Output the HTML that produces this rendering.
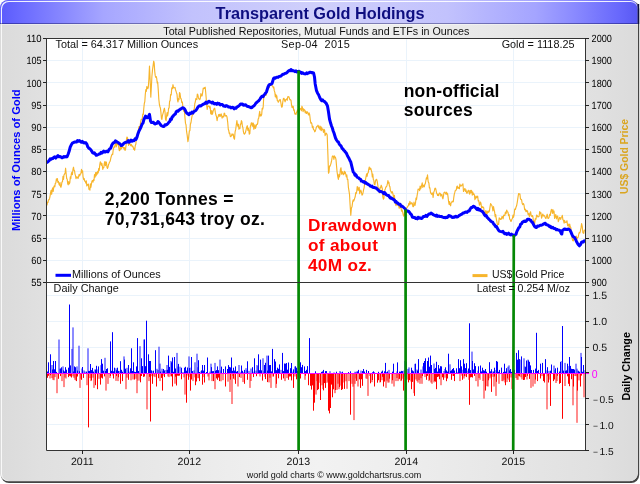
<!DOCTYPE html>
<html><head><meta charset="utf-8"><title>Transparent Gold Holdings</title>
<style>
html,body{margin:0;padding:0;background:#fff;width:640px;height:484px;overflow:hidden}
svg{display:block}
text{font-family:'Liberation Sans', Arial, Helvetica, sans-serif}
</style></head><body>
<svg width="640" height="484" viewBox="0 0 640 484">
<defs>
<linearGradient id="fg" x1="0" x2="1" y1="0" y2="0">
<stop offset="0" stop-color="#dbdbdb"/><stop offset="0.06" stop-color="#e0e0e0"/><stop offset="0.38" stop-color="#eeeeee"/><stop offset="0.5" stop-color="#f2f2f2"/><stop offset="0.62" stop-color="#eeeeee"/><stop offset="0.94" stop-color="#e0e0e0"/><stop offset="1" stop-color="#dbdbdb"/>
</linearGradient>
<linearGradient id="hg" x1="0" x2="1" y1="0" y2="0">
<stop offset="0" stop-color="#5c5cfc"/><stop offset="0.03" stop-color="#6a6aff"/><stop offset="0.1" stop-color="#8a8aff"/><stop offset="0.16" stop-color="#a6a6ff"/><stop offset="0.3" stop-color="#c2c2fd"/><stop offset="0.5" stop-color="#d0d0fb"/><stop offset="0.7" stop-color="#c2c2fd"/><stop offset="0.84" stop-color="#a4a4ff"/><stop offset="0.9" stop-color="#8a8aff"/><stop offset="0.97" stop-color="#6868fc"/><stop offset="1" stop-color="#5858f4"/>
</linearGradient>
<clipPath id="hc"><rect x="0" y="0" width="640" height="24"/></clipPath>
<clipPath id="plc"><rect x="46" y="38" width="539" height="412"/></clipPath>
</defs>

<rect x="1" y="1" width="638.2" height="482" rx="8" ry="8" fill="#444"/>
<rect x="0" y="0" width="637.8" height="481.2" rx="8" ry="8" fill="#d6d6d6"/>
<rect x="0.9" y="0.9" width="636.7" height="480" rx="7.5" ry="7.5" fill="#f8f8f8"/>
<rect x="2" y="2" width="635.6" height="478.9" rx="7" ry="7" fill="url(#fg)"/>
<g clip-path="url(#hc)"><rect x="0" y="0" width="637.8" height="481.2" rx="8" ry="8" fill="url(#hg)"/><rect x="0.9" y="0.9" width="636.7" height="480" rx="7.5" ry="7.5" fill="#fff" fill-opacity="0.9"/><rect x="2" y="2" width="635.6" height="478.9" rx="7" ry="7" fill="url(#hg)"/><rect x="637.6" y="4" width="1.6" height="20" fill="#101040"/></g>
<rect x="0" y="23" width="637.6" height="1" fill="#000040" fill-opacity="0.38"/>
<rect x="2" y="24" width="635.6" height="1" fill="#fff" fill-opacity="0.4"/>
<text x="320.1" y="18.6" text-anchor="middle" font-size="16.3" font-weight="bold" fill="#0e0e80">Transparent Gold Holdings</text>
<text x="316.3" y="34.5" text-anchor="middle" font-size="10.7" fill="#111">Total Published Repositories, Mutual Funds and ETFs in Ounces</text>
<rect x="46" y="38" width="539" height="412" fill="#fff"/>
<path d="M46 260.5H585 M46 238.5H585 M46 215.5H585 M46 193.5H585 M46 171.5H585 M46 149.5H585 M46 127.5H585 M46 105.5H585 M46 82.5H585 M46 60.5H585 M46 295.5H585 M46 321.5H585 M46 347.5H585 M46 398.5H585 M46 424.5H585 M82.5 38V450 M189.5 38V450 M298.5 38V450 M406.5 38V450 M513.5 38V450" stroke="#eaf3fb" stroke-width="1" fill="none"/>
<path d="M47.5 373.0V371.5 M48.5 373.0V362.3 M50.5 373.0V354.3 M52.5 373.0V369.5 M53.5 373.0V361.0 M54.5 373.0V369.3 M55.5 373.0V361.0 M56.5 373.0V371.9 M60.5 373.0V368.5 M61.5 373.0V367.3 M63.5 373.0V370.3 M64.5 373.0V371.4 M65.5 373.0V367.2 M66.5 373.0V369.7 M68.5 373.0V367.7 M69.5 373.0V304.5 M70.5 373.0V365.4 M73.5 373.0V371.5 M74.5 373.0V366.4 M75.5 373.0V367.2 M77.5 373.0V370.6 M79.5 373.0V371.2 M82.5 373.0V367.0 M86.5 373.0V371.6 M88.5 373.0V370.9 M89.5 373.0V370.9 M90.5 373.0V364.0 M91.5 373.0V370.1 M92.5 373.0V367.9 M93.5 373.0V371.6 M95.5 373.0V369.7 M96.5 373.0V365.8 M98.5 373.0V366.4 M101.5 373.0V359.1 M102.5 373.0V363.7 M103.5 373.0V370.7 M105.5 373.0V371.0 M106.5 373.0V369.0 M107.5 373.0V368.3 M110.5 373.0V341.4 M111.5 373.0V370.8 M112.5 373.0V332.2 M113.5 373.0V371.3 M114.5 373.0V367.7 M116.5 373.0V370.3 M117.5 373.0V367.7 M118.5 373.0V370.9 M120.5 373.0V361.2 M121.5 373.0V369.8 M122.5 373.0V371.7 M124.5 373.0V359.6 M125.5 373.0V368.7 M128.5 373.0V365.0 M130.5 373.0V368.3 M131.5 373.0V348.3 M132.5 373.0V371.0 M133.5 373.0V362.3 M134.5 373.0V371.7 M135.5 373.0V372.0 M136.5 373.0V366.4 M137.5 373.0V338.1 M138.5 373.0V371.0 M141.5 373.0V358.3 M142.5 373.0V366.1 M144.5 373.0V339.5 M145.5 373.0V366.2 M146.5 373.0V320.7 M148.5 373.0V354.3 M149.5 373.0V361.0 M150.5 373.0V361.0 M151.5 373.0V370.4 M153.5 373.0V370.7 M155.5 373.0V350.2 M160.5 373.0V371.6 M163.5 373.0V369.0 M164.5 373.0V370.4 M167.5 373.0V369.8 M168.5 373.0V355.6 M169.5 373.0V366.9 M171.5 373.0V362.3 M172.5 373.0V357.5 M173.5 373.0V371.8 M174.5 373.0V357.0 M175.5 373.0V368.5 M178.5 373.0V363.9 M181.5 373.0V367.7 M184.5 373.0V367.7 M185.5 373.0V366.8 M186.5 373.0V370.7 M187.5 373.0V367.5 M189.5 373.0V368.0 M191.5 373.0V357.0 M192.5 373.0V371.1 M198.5 373.0V360.2 M199.5 373.0V372.0 M201.5 373.0V370.4 M202.5 373.0V365.0 M203.5 373.0V370.6 M204.5 373.0V365.0 M206.5 373.0V372.0 M207.5 373.0V357.5 M211.5 373.0V367.1 M212.5 373.0V371.2 M213.5 373.0V371.1 M215.5 373.0V370.8 M216.5 373.0V370.1 M217.5 373.0V366.4 M218.5 373.0V370.2 M221.5 373.0V366.6 M223.5 373.0V369.0 M225.5 373.0V366.4 M227.5 373.0V369.0 M228.5 373.0V365.1 M229.5 373.0V366.9 M230.5 373.0V367.4 M231.5 373.0V357.5 M232.5 373.0V370.8 M233.5 373.0V367.7 M234.5 373.0V370.6 M235.5 373.0V366.4 M236.5 373.0V371.7 M237.5 373.0V371.0 M241.5 373.0V365.5 M242.5 373.0V370.8 M244.5 373.0V369.9 M247.5 373.0V361.3 M252.5 373.0V367.2 M254.5 373.0V358.3 M258.5 373.0V354.3 M259.5 373.0V370.2 M260.5 373.0V359.6 M261.5 373.0V370.3 M264.5 373.0V365.0 M265.5 373.0V362.8 M267.5 373.0V370.6 M268.5 373.0V355.6 M269.5 373.0V365.1 M270.5 373.0V365.0 M271.5 373.0V371.4 M272.5 373.0V348.9 M274.5 373.0V359.1 M275.5 373.0V361.5 M276.5 373.0V370.2 M277.5 373.0V367.7 M278.5 373.0V368.8 M279.5 373.0V364.4 M282.5 373.0V352.9 M283.5 373.0V371.1 M284.5 373.0V363.5 M285.5 373.0V363.7 M286.5 373.0V363.0 M287.5 373.0V369.7 M288.5 373.0V362.5 M290.5 373.0V368.2 M291.5 373.0V363.0 M293.5 373.0V369.4 M295.5 373.0V366.3 M296.5 373.0V367.7 M297.5 373.0V370.9 M300.5 373.0V362.3 M301.5 373.0V367.2 M302.5 373.0V364.9 M304.5 373.0V366.4 M305.5 373.0V371.1 M306.5 373.0V369.8 M307.5 373.0V366.1 M309.5 373.0V338.1 M315.5 373.0V371.3 M321.5 373.0V371.9 M322.5 373.0V371.4 M323.5 373.0V369.9 M325.5 373.0V371.1 M326.5 373.0V371.1 M336.5 373.0V371.7 M342.5 373.0V371.7 M348.5 373.0V372.1 M350.5 373.0V371.3 M357.5 373.0V371.5 M358.5 373.0V369.9 M362.5 373.0V371.1 M363.5 373.0V369.0 M364.5 373.0V371.5 M366.5 373.0V369.9 M368.5 373.0V371.0 M372.5 373.0V372.3 M373.5 373.0V371.3 M374.5 373.0V372.4 M378.5 373.0V371.8 M381.5 373.0V371.7 M382.5 373.0V370.6 M384.5 373.0V371.3 M385.5 373.0V362.9 M386.5 373.0V372.3 M387.5 373.0V371.4 M392.5 373.0V371.7 M393.5 373.0V363.7 M397.5 373.0V362.4 M399.5 373.0V371.6 M400.5 373.0V371.7 M401.5 373.0V370.9 M402.5 373.0V371.1 M405.5 373.0V371.8 M406.5 373.0V361.8 M411.5 373.0V367.7 M412.5 373.0V370.4 M413.5 373.0V371.3 M415.5 373.0V363.7 M417.5 373.0V370.6 M418.5 373.0V359.1 M423.5 373.0V362.9 M424.5 373.0V361.0 M425.5 373.0V358.3 M426.5 373.0V371.3 M427.5 373.0V361.0 M428.5 373.0V357.5 M429.5 373.0V366.7 M430.5 373.0V355.6 M431.5 373.0V365.0 M434.5 373.0V369.0 M435.5 373.0V367.9 M436.5 373.0V361.8 M437.5 373.0V371.6 M438.5 373.0V365.0 M439.5 373.0V368.5 M440.5 373.0V366.2 M441.5 373.0V366.4 M445.5 373.0V367.3 M446.5 373.0V370.4 M447.5 373.0V371.6 M448.5 373.0V353.7 M450.5 373.0V371.0 M451.5 373.0V370.3 M452.5 373.0V369.0 M453.5 373.0V368.0 M454.5 373.0V370.5 M456.5 373.0V368.3 M458.5 373.0V359.1 M459.5 373.0V368.2 M460.5 373.0V360.2 M461.5 373.0V366.3 M463.5 373.0V359.1 M464.5 373.0V363.7 M465.5 373.0V368.1 M466.5 373.0V363.2 M468.5 373.0V368.5 M469.5 373.0V323.3 M470.5 373.0V370.1 M472.5 373.0V361.0 M473.5 373.0V369.5 M474.5 373.0V363.2 M475.5 373.0V366.1 M478.5 373.0V366.3 M480.5 373.0V365.5 M481.5 373.0V371.4 M482.5 373.0V367.7 M483.5 373.0V370.2 M484.5 373.0V370.7 M485.5 373.0V369.0 M486.5 373.0V371.7 M489.5 373.0V362.2 M490.5 373.0V371.3 M491.5 373.0V369.2 M493.5 373.0V371.7 M494.5 373.0V367.7 M496.5 373.0V361.0 M497.5 373.0V361.7 M498.5 373.0V371.8 M499.5 373.0V369.9 M501.5 373.0V367.6 M503.5 373.0V371.9 M504.5 373.0V363.7 M505.5 373.0V371.6 M506.5 373.0V368.2 M509.5 373.0V370.4 M510.5 373.0V369.0 M511.5 373.0V371.9 M512.5 373.0V370.6 M513.5 373.0V361.0 M514.5 373.0V369.8 M516.5 373.0V352.9 M517.5 373.0V359.7 M518.5 373.0V350.2 M519.5 373.0V359.1 M521.5 373.0V356.4 M525.5 373.0V367.1 M526.5 373.0V360.5 M528.5 373.0V360.4 M529.5 373.0V361.8 M530.5 373.0V365.4 M531.5 373.0V370.0 M533.5 373.0V369.9 M535.5 373.0V368.6 M536.5 373.0V332.8 M537.5 373.0V371.0 M538.5 373.0V369.9 M540.5 373.0V363.7 M542.5 373.0V362.9 M545.5 373.0V359.1 M547.5 373.0V367.2 M550.5 373.0V370.7 M551.5 373.0V364.5 M555.5 373.0V368.3 M557.5 373.0V367.7 M559.5 373.0V371.5 M560.5 373.0V361.8 M562.5 373.0V326.0 M563.5 373.0V370.6 M565.5 373.0V370.8 M566.5 373.0V370.3 M567.5 373.0V363.7 M569.5 373.0V357.0 M570.5 373.0V365.9 M571.5 373.0V368.8 M572.5 373.0V369.0 M573.5 373.0V369.0 M574.5 373.0V369.6 M578.5 373.0V371.1 M579.5 373.0V371.7 M581.5 373.0V357.0 M582.5 373.0V371.8 M583.5 373.0V365.0" stroke="#0000ff" stroke-width="1" fill="none"/>
<path d="M52.0 373.0V365.0 M59.0 373.0V339.5 M60.0 373.0V368.7 M63.0 373.0V366.4 M72.0 373.0V348.9 M73.0 373.0V327.4 M77.0 373.0V366.4 M79.0 373.0V345.7 M82.0 373.0V368.5 M84.0 373.0V370.4 M85.0 373.0V371.5 M88.0 373.0V348.3 M95.0 373.0V369.4 M98.0 373.0V369.4 M101.0 373.0V365.1 M105.0 373.0V357.8 M116.0 373.0V368.3 M120.0 373.0V371.0 M124.0 373.0V356.4 M127.0 373.0V367.8 M130.0 373.0V371.6 M140.0 373.0V346.2 M144.0 373.0V339.5 M153.0 373.0V370.9 M157.0 373.0V368.8 M158.0 373.0V370.1 M159.0 373.0V346.7 M160.0 373.0V363.6 M162.0 373.0V368.7 M163.0 373.0V371.2 M166.0 373.0V370.0 M167.0 373.0V365.0 M171.0 373.0V361.0 M177.0 373.0V352.9 M178.0 373.0V366.5 M180.0 373.0V366.7 M183.0 373.0V372.0 M189.0 373.0V356.4 M191.0 373.0V367.6 M194.0 373.0V370.4 M195.0 373.0V362.3 M197.0 373.0V353.7 M198.0 373.0V367.2 M201.0 373.0V371.3 M210.0 373.0V371.6 M211.0 373.0V363.7 M215.0 373.0V362.9 M220.0 373.0V359.6 M221.0 373.0V370.5 M239.0 373.0V365.0 M241.0 373.0V371.8 M244.0 373.0V372.0 M246.0 373.0V368.2 M247.0 373.0V370.2 M249.0 373.0V370.9 M251.0 373.0V368.5 M254.0 373.0V371.6 M256.0 373.0V370.6 M257.0 373.0V365.0 M258.0 373.0V366.0 M263.0 373.0V358.3 M264.0 373.0V371.3 M267.0 373.0V355.6 M281.0 373.0V369.9 M293.0 373.0V371.6 M295.0 373.0V366.5 M299.0 373.0V363.5 M300.0 373.0V371.5 M330.0 373.0V371.2 M334.0 373.0V372.4 M340.0 373.0V371.0 M341.0 373.0V372.0 M355.0 373.0V371.7 M356.0 373.0V372.2 M357.0 373.0V371.3 M361.0 373.0V370.6 M389.0 373.0V369.9 M397.0 373.0V371.4 M404.0 373.0V370.6 M405.0 373.0V361.0 M408.0 373.0V368.9 M409.0 373.0V367.4 M415.0 373.0V363.9 M417.0 373.0V369.5 M421.0 373.0V369.6 M423.0 373.0V366.4 M434.0 373.0V363.5 M444.0 373.0V371.0 M445.0 373.0V369.0 M450.0 373.0V364.3 M458.0 373.0V371.9 M463.0 373.0V369.7 M468.0 373.0V370.7 M472.0 373.0V351.6 M478.0 373.0V370.7 M493.0 373.0V371.4 M496.0 373.0V370.1 M508.0 373.0V366.7 M509.0 373.0V365.4 M521.0 373.0V359.6 M524.0 373.0V358.3 M525.0 373.0V366.4 M528.0 373.0V359.6 M547.0 373.0V370.3 M549.0 373.0V370.9 M554.0 373.0V365.6 M555.0 373.0V369.9 M562.0 373.0V361.0 M565.0 373.0V362.9 M569.0 373.0V366.1 M576.0 373.0V363.7 M577.0 373.0V368.7 M578.0 373.0V370.5 M581.0 373.0V352.9 M585.0 373.0V370.2" stroke="#0000ff" stroke-width="1" fill="none" stroke-opacity="0.9"/>
<path d="M47.5 374.0V377.8 M48.5 374.0V375.8 M50.5 374.0V375.2 M58.5 374.0V378.8 M60.5 374.0V376.1 M68.5 374.0V377.1 M69.5 374.0V375.8 M70.5 374.0V376.4 M71.5 374.0V377.5 M76.5 374.0V381.1 M77.5 374.0V376.5 M81.5 374.0V379.8 M83.5 374.0V377.9 M88.5 374.0V427.4 M91.5 374.0V380.3 M95.5 374.0V385.2 M97.5 374.0V389.2 M100.5 374.0V384.6 M101.5 374.0V377.7 M102.5 374.0V378.5 M104.5 374.0V376.4 M110.5 374.0V376.0 M113.5 374.0V378.5 M116.5 374.0V375.9 M118.5 374.0V377.3 M120.5 374.0V383.8 M122.5 374.0V381.1 M128.5 374.0V379.8 M134.5 374.0V379.6 M140.5 374.0V382.3 M141.5 374.0V376.0 M143.5 374.0V376.9 M144.5 374.0V376.5 M149.5 374.0V376.8 M150.5 374.0V421.5 M152.5 374.0V383.8 M156.5 374.0V386.5 M158.5 374.0V378.2 M161.5 374.0V377.9 M162.5 374.0V390.6 M164.5 374.0V377.1 M171.5 374.0V376.3 M172.5 374.0V386.5 M175.5 374.0V376.7 M176.5 374.0V385.5 M177.5 374.0V375.7 M178.5 374.0V375.8 M179.5 374.0V375.6 M181.5 374.0V379.3 M186.5 374.0V402.7 M188.5 374.0V379.8 M190.5 374.0V390.6 M191.5 374.0V379.5 M195.5 374.0V385.2 M196.5 374.0V381.5 M199.5 374.0V381.1 M202.5 374.0V384.7 M204.5 374.0V382.5 M213.5 374.0V381.1 M216.5 374.0V378.4 M217.5 374.0V379.8 M218.5 374.0V377.6 M219.5 374.0V381.1 M225.5 374.0V386.5 M230.5 374.0V379.6 M233.5 374.0V378.7 M235.5 374.0V383.8 M239.5 374.0V377.1 M244.5 374.0V383.8 M247.5 374.0V379.8 M253.5 374.0V377.1 M256.5 374.0V376.2 M262.5 374.0V380.6 M265.5 374.0V379.1 M267.5 374.0V382.1 M273.5 374.0V376.4 M276.5 374.0V383.8 M278.5 374.0V378.3 M281.5 374.0V379.8 M283.5 374.0V378.4 M288.5 374.0V379.8 M289.5 374.0V376.5 M290.5 374.0V376.4 M291.5 374.0V380.4 M293.5 374.0V387.9 M296.5 374.0V379.3 M300.5 374.0V378.5 M305.5 374.0V375.7 M308.5 374.0V385.2 M310.5 374.0V385.8 M311.5 374.0V389.6 M312.5 374.0V385.4 M313.5 374.0V410.7 M314.5 374.0V402.7 M317.5 374.0V390.1 M318.5 374.0V389.2 M320.5 374.0V400.0 M323.5 374.0V390.4 M324.5 374.0V383.1 M325.5 374.0V387.9 M328.5 374.0V410.7 M329.5 374.0V413.4 M330.5 374.0V408.0 M331.5 374.0V384.6 M332.5 374.0V397.3 M333.5 374.0V389.3 M335.5 374.0V390.0 M339.5 374.0V387.1 M341.5 374.0V390.0 M342.5 374.0V389.2 M344.5 374.0V388.9 M350.5 374.0V414.7 M356.5 374.0V380.9 M359.5 374.0V379.3 M360.5 374.0V387.9 M361.5 374.0V379.3 M362.5 374.0V385.8 M370.5 374.0V383.3 M372.5 374.0V380.0 M374.5 374.0V386.5 M377.5 374.0V382.7 M378.5 374.0V380.2 M380.5 374.0V382.0 M382.5 374.0V376.8 M383.5 374.0V386.5 M384.5 374.0V381.6 M389.5 374.0V378.7 M392.5 374.0V380.2 M399.5 374.0V378.8 M401.5 374.0V380.3 M403.5 374.0V390.6 M405.5 374.0V381.1 M406.5 374.0V378.4 M408.5 374.0V382.4 M409.5 374.0V380.1 M411.5 374.0V389.2 M412.5 374.0V381.9 M414.5 374.0V395.9 M422.5 374.0V376.0 M426.5 374.0V379.8 M427.5 374.0V375.9 M429.5 374.0V379.9 M434.5 374.0V381.1 M435.5 374.0V381.7 M436.5 374.0V389.2 M437.5 374.0V377.0 M438.5 374.0V376.5 M439.5 374.0V379.2 M442.5 374.0V377.3 M443.5 374.0V379.8 M446.5 374.0V381.2 M447.5 374.0V378.5 M451.5 374.0V379.8 M453.5 374.0V376.0 M454.5 374.0V381.1 M462.5 374.0V379.8 M464.5 374.0V376.2 M466.5 374.0V377.1 M469.5 374.0V404.8 M470.5 374.0V377.4 M471.5 374.0V377.1 M472.5 374.0V377.5 M474.5 374.0V375.9 M485.5 374.0V390.6 M488.5 374.0V380.3 M491.5 374.0V391.9 M494.5 374.0V376.6 M496.5 374.0V381.8 M505.5 374.0V385.2 M507.5 374.0V378.4 M509.5 374.0V381.9 M512.5 374.0V378.3 M513.5 374.0V378.8 M518.5 374.0V375.7 M519.5 374.0V376.3 M523.5 374.0V380.0 M524.5 374.0V379.8 M525.5 374.0V377.0 M527.5 374.0V375.9 M529.5 374.0V378.9 M535.5 374.0V379.6 M537.5 374.0V381.1 M540.5 374.0V378.5 M543.5 374.0V381.1 M544.5 374.0V382.5 M548.5 374.0V382.5 M550.5 374.0V405.9 M553.5 374.0V381.1 M554.5 374.0V379.5 M557.5 374.0V375.8 M559.5 374.0V383.8 M560.5 374.0V383.0 M562.5 374.0V418.8 M567.5 374.0V376.3 M568.5 374.0V383.8 M569.5 374.0V386.2 M571.5 374.0V379.2 M573.5 374.0V386.5 M577.5 374.0V390.6 M580.5 374.0V386.5 M581.5 374.0V375.6" stroke="#ff0000" stroke-width="1" fill="none"/>
<path d="M50.0 374.0V378.5 M52.0 374.0V378.1 M53.0 374.0V379.8 M54.0 374.0V380.2 M55.0 374.0V377.1 M57.0 374.0V393.2 M62.0 374.0V381.1 M64.0 374.0V387.1 M65.0 374.0V377.5 M66.0 374.0V378.5 M73.0 374.0V376.3 M74.0 374.0V377.8 M75.0 374.0V379.8 M76.0 374.0V380.5 M80.0 374.0V387.9 M81.0 374.0V378.7 M87.0 374.0V385.2 M90.0 374.0V378.1 M91.0 374.0V381.1 M93.0 374.0V377.7 M94.0 374.0V387.9 M99.0 374.0V378.8 M106.0 374.0V390.6 M108.0 374.0V383.9 M110.0 374.0V377.9 M113.0 374.0V375.5 M116.0 374.0V380.9 M118.0 374.0V381.1 M126.0 374.0V389.2 M127.0 374.0V377.7 M131.0 374.0V380.3 M133.0 374.0V379.5 M136.0 374.0V378.8 M137.0 374.0V393.2 M138.0 374.0V380.6 M140.0 374.0V380.6 M147.0 374.0V409.4 M149.0 374.0V381.1 M152.0 374.0V376.2 M154.0 374.0V376.4 M155.0 374.0V377.1 M160.0 374.0V381.1 M164.0 374.0V375.7 M168.0 374.0V376.4 M169.0 374.0V377.1 M171.0 374.0V376.3 M175.0 374.0V383.7 M184.0 374.0V377.4 M185.0 374.0V394.6 M188.0 374.0V375.6 M190.0 374.0V377.1 M193.0 374.0V381.1 M195.0 374.0V377.4 M198.0 374.0V378.2 M199.0 374.0V378.2 M204.0 374.0V377.1 M208.0 374.0V376.5 M209.0 374.0V380.4 M212.0 374.0V381.1 M215.0 374.0V389.2 M221.0 374.0V381.3 M223.0 374.0V380.2 M228.0 374.0V381.7 M230.0 374.0V391.9 M232.0 374.0V404.0 M233.0 374.0V376.0 M235.0 374.0V379.8 M238.0 374.0V386.5 M241.0 374.0V377.9 M243.0 374.0V382.1 M250.0 374.0V387.9 M251.0 374.0V381.0 M260.0 374.0V376.5 M265.0 374.0V376.8 M269.0 374.0V382.4 M270.0 374.0V377.8 M271.0 374.0V387.9 M273.0 374.0V376.6 M276.0 374.0V387.9 M285.0 374.0V381.1 M287.0 374.0V378.1 M295.0 374.0V376.5 M298.0 374.0V378.5 M299.0 374.0V380.8 M305.0 374.0V379.8 M316.0 374.0V394.6 M317.0 374.0V381.1 M320.0 374.0V382.8 M322.0 374.0V385.3 M323.0 374.0V389.1 M327.0 374.0V382.9 M328.0 374.0V381.8 M335.0 374.0V393.2 M337.0 374.0V389.9 M338.0 374.0V383.7 M339.0 374.0V389.2 M341.0 374.0V385.6 M344.0 374.0V382.5 M346.0 374.0V381.3 M347.0 374.0V388.8 M349.0 374.0V381.1 M352.0 374.0V383.8 M353.0 374.0V386.7 M354.0 374.0V420.1 M355.0 374.0V383.8 M356.0 374.0V378.5 M358.0 374.0V386.5 M366.0 374.0V378.5 M367.0 374.0V378.9 M368.0 374.0V395.9 M370.0 374.0V376.0 M372.0 374.0V382.2 M380.0 374.0V382.5 M382.0 374.0V380.2 M386.0 374.0V387.9 M387.0 374.0V380.7 M388.0 374.0V382.6 M389.0 374.0V382.5 M392.0 374.0V383.7 M394.0 374.0V386.5 M396.0 374.0V381.1 M397.0 374.0V378.0 M398.0 374.0V381.1 M399.0 374.0V379.3 M401.0 374.0V381.1 M403.0 374.0V378.7 M405.0 374.0V376.5 M408.0 374.0V379.6 M411.0 374.0V381.5 M414.0 374.0V393.2 M416.0 374.0V379.5 M417.0 374.0V381.1 M418.0 374.0V382.6 M419.0 374.0V380.0 M420.0 374.0V383.8 M421.0 374.0V378.2 M422.0 374.0V383.8 M425.0 374.0V377.1 M429.0 374.0V381.1 M431.0 374.0V382.5 M432.0 374.0V383.8 M434.0 374.0V382.4 M441.0 374.0V385.2 M445.0 374.0V377.7 M453.0 374.0V375.9 M460.0 374.0V381.1 M462.0 374.0V375.7 M464.0 374.0V378.5 M466.0 374.0V376.3 M469.0 374.0V379.9 M476.0 374.0V381.1 M478.0 374.0V386.5 M479.0 374.0V378.0 M480.0 374.0V379.8 M483.0 374.0V381.0 M484.0 374.0V398.6 M487.0 374.0V386.2 M488.0 374.0V386.5 M490.0 374.0V378.4 M491.0 374.0V376.6 M493.0 374.0V376.8 M494.0 374.0V386.5 M496.0 374.0V395.9 M499.0 374.0V383.8 M502.0 374.0V381.1 M503.0 374.0V381.2 M504.0 374.0V379.8 M505.0 374.0V382.5 M507.0 374.0V382.1 M509.0 374.0V379.8 M511.0 374.0V377.5 M512.0 374.0V389.2 M516.0 374.0V378.0 M517.0 374.0V379.8 M518.0 374.0V379.8 M521.0 374.0V377.3 M522.0 374.0V379.4 M527.0 374.0V379.5 M531.0 374.0V387.9 M533.0 374.0V386.5 M535.0 374.0V383.8 M542.0 374.0V376.1 M547.0 374.0V409.4 M548.0 374.0V376.2 M550.0 374.0V379.7 M556.0 374.0V383.0 M557.0 374.0V381.1 M565.0 374.0V386.0 M573.0 374.0V405.3 M575.0 374.0V376.0 M576.0 374.0V376.1 M577.0 374.0V422.8 M579.0 374.0V380.4 M584.0 374.0V397.3" stroke="#ff0000" stroke-width="1" fill="none" stroke-opacity="0.9"/>
<path d="M46 373.5H589" stroke="#ff00ff" stroke-width="1"/>
<g clip-path="url(#plc)"><polyline points="47.0,205.4 47.5,202.2 48.0,202.5 48.5,199.9 49.1,199.8 49.6,198.4 50.1,196.0 50.6,192.6 51.1,190.3 51.7,194.3 52.2,189.4 52.7,187.9 53.2,191.5 53.8,186.9 54.3,185.8 54.8,186.8 55.3,183.2 55.8,183.1 56.4,178.8 56.9,180.7 57.4,178.6 57.9,182.3 58.4,181.5 59.0,184.2 59.5,185.2 60.0,182.6 60.5,186.8 61.0,187.2 61.5,184.8 62.0,181.7 62.5,181.7 63.0,176.4 63.5,179.5 64.0,174.8 64.6,174.1 65.1,172.9 65.6,168.2 66.1,173.4 66.7,178.6 67.2,179.2 67.7,183.7 68.2,184.8 68.7,181.6 69.2,183.9 69.8,182.7 70.3,176.9 70.8,178.6 71.3,174.0 71.9,172.2 72.4,174.7 73.0,169.1 73.5,167.2 74.0,170.3 74.5,170.5 75.0,174.1 75.5,175.6 76.0,178.6 76.5,176.9 77.0,177.7 77.5,177.0 78.1,178.4 78.6,176.3 79.1,174.4 79.7,175.9 80.3,174.1 80.9,173.7 81.5,169.3 82.0,172.3 82.6,170.9 83.1,177.2 83.7,179.7 84.2,178.6 84.7,181.2 85.2,181.1 85.8,183.1 86.3,180.9 86.8,185.9 87.3,185.3 87.8,184.4 88.4,184.0 88.9,189.3 89.4,188.9 89.9,190.1 90.4,183.9 90.9,187.3 91.5,183.7 92.0,180.9 92.5,180.6 93.0,182.1 93.5,179.6 94.0,180.4 94.5,174.6 95.1,177.2 95.6,172.5 96.1,175.8 96.7,172.3 97.2,174.2 97.7,171.3 98.2,173.0 98.7,168.6 99.2,170.4 99.8,164.6 100.3,161.8 100.8,163.1 101.3,165.3 101.8,163.2 102.3,165.8 102.8,169.3 103.3,167.5 103.8,167.6 104.3,163.4 104.9,161.5 105.4,165.6 105.9,162.0 106.4,162.1 107.0,167.5 107.5,168.4 108.0,167.2 108.5,164.7 109.0,163.5 109.5,162.2 110.1,161.3 110.6,159.2 111.1,156.9 111.6,155.5 112.1,154.2 112.7,154.5 113.2,150.0 113.7,147.8 114.2,146.5 114.7,147.2 115.2,143.5 115.8,143.2 116.3,146.8 116.8,143.2 117.3,142.4 117.8,144.8 118.3,143.4 118.8,148.1 119.3,150.7 119.8,150.5 120.3,146.2 120.8,149.3 121.4,148.7 121.9,144.4 122.4,146.5 122.9,147.8 123.4,147.3 124.0,149.2 124.5,147.6 125.0,150.4 125.5,149.6 126.0,145.9 126.5,139.2 127.0,137.0 127.6,138.0 128.1,142.8 128.6,145.4 129.2,141.7 129.7,144.1 130.2,144.3 130.7,145.7 131.2,144.4 131.7,145.2 132.2,146.6 132.7,146.1 133.2,147.2 133.7,149.4 134.2,148.3 134.7,150.3 135.3,145.5 135.9,144.0 136.5,135.2 137.1,134.2 137.6,133.2 138.1,132.7 138.6,128.5 139.1,126.5 139.6,126.8 140.1,126.7 140.7,121.6 141.2,119.5 141.7,119.3 142.2,119.2 142.8,114.0 143.3,114.4 143.8,108.3 144.3,103.5 144.8,101.7 145.3,94.2 145.8,89.7 146.3,91.5 146.8,86.6 147.3,87.2 147.8,88.7 148.3,87.2 148.9,79.1 149.5,66.1 150.2,81.3 150.8,97.1 151.4,86.3 151.9,76.5 152.5,69.9 153.1,65.7 153.7,61.2 154.2,63.2 154.7,71.2 155.2,75.4 155.7,77.3 156.2,76.5 156.7,78.3 157.2,82.9 157.7,82.2 158.3,90.5 158.8,99.0 159.4,104.5 159.9,106.5 160.4,108.1 160.9,112.1 161.4,118.3 161.9,119.4 162.4,115.7 162.9,113.9 163.4,112.1 163.9,109.9 164.4,108.2 165.0,111.8 165.5,119.2 166.1,120.6 166.6,115.9 167.1,112.5 167.6,116.0 168.1,113.1 168.6,108.2 169.1,107.9 169.6,101.0 170.1,100.9 170.6,94.6 171.2,94.9 171.8,87.9 172.4,88.7 173.0,84.7 173.5,87.9 174.0,87.7 174.5,87.8 175.0,87.3 175.5,89.7 176.0,91.1 176.5,92.9 177.0,94.3 177.5,100.1 178.0,102.0 178.5,98.5 179.0,99.7 179.5,92.6 180.0,93.4 180.6,98.1 181.2,98.9 181.8,102.6 182.4,102.0 182.9,107.5 183.4,110.5 183.9,111.4 184.4,110.8 184.9,116.9 185.5,123.4 186.0,124.7 186.6,131.7 187.2,135.4 187.9,141.6 188.4,139.2 188.9,134.8 189.4,130.7 189.9,130.6 190.4,124.3 191.0,122.5 191.6,118.3 192.2,115.3 192.8,114.4 193.3,114.2 193.8,109.3 194.3,108.8 194.8,103.5 195.3,102.0 195.8,98.6 196.3,99.3 196.8,99.6 197.3,94.0 197.8,94.6 198.3,97.2 198.8,98.8 199.3,98.8 199.8,99.6 200.3,98.3 200.9,93.6 201.5,96.0 202.1,96.0 202.7,92.1 203.2,88.2 203.7,88.7 204.2,87.7 204.7,88.4 205.2,87.2 205.7,92.3 206.2,98.2 206.7,105.7 207.2,109.5 207.7,106.1 208.2,106.1 208.7,106.3 209.2,106.1 209.7,108.2 210.2,106.7 210.7,113.7 211.2,114.2 211.7,110.5 212.2,114.4 212.7,113.2 213.2,110.7 213.7,109.5 214.2,108.5 214.7,108.2 215.3,112.2 215.9,115.0 216.5,116.6 217.1,120.6 217.6,117.4 218.1,117.0 218.6,114.5 219.1,116.0 219.6,114.4 220.1,116.5 220.6,115.1 221.1,113.9 221.6,115.3 222.1,118.1 222.6,116.3 223.1,116.8 223.6,117.0 224.1,113.4 224.6,113.2 225.2,116.1 225.8,115.8 226.4,115.5 227.0,116.9 227.7,122.3 228.3,129.3 228.8,130.8 229.3,133.6 229.8,133.2 230.3,136.5 230.8,136.7 231.4,135.8 232.0,133.8 232.6,135.1 233.2,134.2 233.8,137.9 234.5,139.2 235.1,131.8 235.7,129.4 236.3,124.8 236.9,120.6 237.4,124.5 237.9,126.4 238.4,124.2 238.9,129.1 239.4,128.0 239.9,128.6 240.4,124.0 240.9,124.1 241.4,120.6 241.9,121.8 242.4,126.3 242.9,127.8 243.4,131.7 243.9,133.6 244.4,134.2 245.0,133.4 245.6,132.0 246.2,129.1 246.8,126.8 247.3,125.7 247.8,130.3 248.3,128.1 248.8,130.4 249.3,134.2 249.8,133.7 250.3,126.8 250.8,124.9 251.3,122.8 251.8,123.1 252.3,126.5 252.8,123.0 253.3,123.0 253.8,129.2 254.3,128.0 254.9,124.7 255.5,128.4 256.1,126.3 256.7,124.3 257.2,124.5 257.7,123.2 258.2,118.9 258.7,118.3 259.2,114.4 259.7,111.4 260.2,116.1 260.7,114.5 261.2,115.8 261.7,114.4 262.2,108.4 262.7,109.1 263.2,106.8 263.7,97.8 264.2,97.1 264.8,94.7 265.4,95.0 266.0,95.4 266.6,92.1 267.2,89.2 267.7,87.6 268.2,86.8 268.8,87.9 269.3,87.6 269.9,84.7 270.5,84.3 271.1,84.5 271.7,84.9 272.3,85.9 272.8,86.2 273.3,87.9 273.8,87.0 274.3,90.9 274.8,92.1 275.3,96.6 275.8,94.4 276.3,98.0 276.8,95.7 277.3,100.6 277.8,100.8 278.3,102.2 278.8,101.4 279.3,100.2 279.8,99.7 280.3,99.6 280.9,103.0 281.6,107.1 282.2,107.0 282.8,101.9 283.4,98.6 284.0,98.3 284.6,100.3 285.1,101.8 285.7,99.6 286.2,99.5 286.7,98.8 287.2,100.3 287.8,96.7 288.3,97.0 288.8,96.6 289.3,98.0 289.9,99.9 290.4,99.5 291.0,100.4 291.5,104.7 292.1,107.7 292.6,106.2 293.2,106.3 293.7,110.3 294.2,109.8 294.8,114.0 295.3,113.7 295.9,114.5 296.4,112.5 297.0,111.6 297.5,109.8 298.1,112.2 298.6,111.0 299.2,111.2 299.8,108.6 300.3,109.2 300.9,108.4 301.4,110.8 301.9,106.2 302.5,107.9 303.1,111.6 303.6,108.9 304.1,110.2 304.7,109.9 305.2,112.8 305.8,111.2 306.4,113.5 306.9,112.1 307.5,111.9 308.0,113.7 308.6,114.9 309.1,112.9 309.7,114.7 310.2,119.3 310.8,123.2 311.3,122.6 311.8,123.5 312.4,127.7 313.0,126.3 313.5,129.7 314.1,129.7 314.7,131.8 315.2,131.4 315.8,129.4 316.4,127.2 316.9,126.3 317.5,126.2 318.0,125.2 318.6,128.0 319.1,126.1 319.7,128.9 320.2,129.8 320.8,126.2 321.3,130.6 321.8,127.7 322.4,129.4 322.9,129.7 323.5,132.5 324.0,129.2 324.6,130.1 325.1,135.6 325.7,134.3 326.2,133.2 326.7,133.8 327.2,134.9 327.9,154.6 328.5,173.2 329.0,172.3 329.5,166.1 330.0,166.2 330.5,164.9 331.0,163.3 331.6,160.7 332.3,156.5 332.9,155.9 333.4,156.7 333.9,159.3 334.4,155.9 334.9,157.1 335.4,157.1 336.0,159.6 336.5,165.6 337.1,172.0 337.8,176.8 338.4,179.4 338.9,174.4 339.4,176.9 339.9,174.6 340.4,169.5 341.0,167.8 341.6,174.2 342.2,171.5 342.8,173.2 343.3,174.7 343.8,174.4 344.3,171.2 344.8,173.4 345.3,172.0 345.8,174.5 346.3,176.9 346.8,174.9 347.3,179.5 347.8,179.4 348.4,187.3 348.9,190.4 349.5,194.3 350.1,205.0 350.8,215.3 351.4,208.3 352.1,206.2 352.7,201.7 353.2,199.8 353.7,201.1 354.2,199.8 354.7,198.1 355.2,196.7 355.7,192.7 356.2,193.7 356.7,191.6 357.2,186.7 357.7,186.8 358.2,190.3 358.7,189.8 359.2,187.4 359.7,193.6 360.2,191.8 360.8,190.1 361.4,192.0 362.0,195.1 362.6,194.3 363.1,192.4 363.6,189.7 364.1,187.8 364.6,184.1 365.1,181.9 365.6,179.0 366.1,176.3 366.6,173.9 367.1,176.3 367.6,173.2 368.2,172.8 368.7,169.3 369.3,167.0 369.8,169.5 370.3,168.1 370.8,168.5 371.3,170.3 371.8,172.0 372.3,176.9 372.8,174.0 373.3,179.5 373.8,180.3 374.3,184.4 374.9,184.9 375.5,181.0 376.1,179.6 376.7,179.4 377.2,181.3 377.7,184.6 378.2,188.6 378.7,188.4 379.2,191.8 379.7,193.0 380.2,187.3 380.7,187.3 381.2,185.2 381.7,186.8 382.3,188.5 382.8,196.9 383.4,199.2 383.9,198.2 384.4,192.2 384.9,189.8 385.4,188.7 385.9,186.8 386.4,186.8 386.9,185.7 387.4,183.7 387.9,180.6 388.4,183.2 388.9,182.3 389.4,185.9 389.9,186.6 390.4,190.5 391.0,191.7 391.6,192.9 392.1,191.6 392.7,192.9 393.3,195.5 393.8,198.8 394.4,195.4 394.9,201.8 395.4,203.8 396.0,205.6 396.5,204.2 397.1,203.7 397.6,204.9 398.1,205.3 398.7,205.9 399.2,208.3 399.8,205.4 400.4,207.7 401.0,206.4 401.5,211.1 402.1,209.9 402.6,211.9 403.2,214.7 403.7,216.1 404.2,215.8 404.8,209.3 405.3,212.4 405.8,208.9 406.3,209.3 406.8,207.6 407.3,207.2 407.8,206.2 408.3,205.8 408.8,203.3 409.3,205.0 409.9,201.3 410.4,203.7 410.9,204.2 411.4,202.7 411.9,202.7 412.4,203.8 412.9,206.7 413.5,206.6 414.0,202.1 414.5,204.8 415.0,205.4 415.5,203.0 416.0,198.0 416.5,199.6 417.0,196.1 417.6,192.7 418.1,189.2 418.6,189.3 419.1,188.8 419.6,190.7 420.1,186.1 420.7,188.9 421.2,187.0 421.7,185.1 422.2,182.8 422.8,187.4 423.3,185.7 423.8,185.1 424.3,186.8 424.8,184.4 425.3,183.6 425.8,181.0 426.4,177.9 426.9,178.8 427.5,174.8 428.2,181.7 428.9,183.1 429.4,188.0 429.9,187.8 430.5,192.5 431.0,193.4 431.5,194.3 432.1,192.9 432.6,193.5 433.1,197.5 433.7,192.5 434.3,190.9 434.9,188.4 435.5,188.2 436.0,190.0 436.6,193.1 437.1,193.9 437.6,195.5 438.1,194.6 438.7,195.6 439.2,193.0 439.8,193.6 440.3,193.4 440.8,196.1 441.4,194.8 441.9,194.4 442.4,197.5 442.9,198.8 443.4,196.4 443.9,192.8 444.4,192.4 444.9,192.0 445.5,193.4 446.0,194.2 446.6,192.2 447.1,194.4 447.6,193.7 448.1,197.4 448.6,201.7 449.1,204.5 449.6,201.5 450.1,204.5 450.6,205.8 451.1,203.0 451.7,202.3 452.2,201.2 452.8,201.9 453.3,201.7 453.8,197.3 454.3,194.1 454.8,192.4 455.3,190.5 455.8,190.3 456.3,189.8 456.8,186.6 457.3,186.0 457.8,188.3 458.3,188.2 458.8,187.2 459.4,188.7 459.9,184.1 460.5,186.0 461.0,186.2 461.7,185.0 462.4,185.1 462.9,183.8 463.5,191.5 464.0,190.3 464.5,188.9 465.0,188.5 465.5,191.4 466.0,189.8 466.5,192.4 467.0,193.4 467.6,191.8 468.1,190.6 468.7,190.3 469.2,193.4 469.7,194.1 470.2,190.4 470.8,192.9 471.3,190.3 471.8,191.1 472.3,195.1 472.8,192.1 473.3,194.4 473.8,193.8 474.4,195.0 474.9,199.6 475.4,198.6 476.0,196.0 476.6,197.8 477.1,196.9 477.7,196.2 478.2,200.9 478.8,200.7 479.4,205.2 479.9,204.3 480.5,202.0 481.0,203.6 481.6,208.1 482.1,206.5 482.7,207.3 483.2,207.1 483.7,207.9 484.2,212.4 484.8,214.4 485.3,212.8 485.9,210.5 486.4,215.1 487.0,211.5 487.5,213.2 488.1,210.9 488.7,212.3 489.4,211.2 490.0,207.2 490.6,203.6 491.2,204.7 491.8,205.3 492.4,207.3 492.9,210.8 493.5,206.6 494.0,209.3 494.6,211.9 495.2,216.7 495.7,214.6 496.3,219.0 496.8,221.2 497.4,224.9 498.0,224.4 498.6,224.4 499.2,217.9 499.8,218.4 500.4,219.5 500.9,218.9 501.4,219.1 502.0,216.5 502.6,216.7 503.1,218.9 503.7,215.1 504.2,215.2 504.8,215.6 505.4,212.0 506.1,213.7 506.7,210.0 507.3,211.7 508.0,212.3 508.6,215.6 509.1,214.6 509.7,219.3 510.2,219.6 510.8,221.4 511.3,221.2 511.9,219.2 512.4,218.5 513.0,215.1 513.5,217.3 514.1,214.7 514.7,209.1 515.4,209.5 516.0,207.2 516.6,205.8 517.3,202.1 517.9,197.9 518.6,193.5 519.3,194.2 519.9,193.9 520.5,199.2 521.0,199.3 521.6,199.8 522.2,203.5 522.8,204.6 523.4,203.5 524.0,205.0 524.7,209.8 525.3,209.1 525.9,211.7 526.4,210.3 527.0,211.6 527.5,210.8 528.1,214.7 528.7,213.6 529.4,216.6 530.0,213.2 530.6,211.8 531.2,215.8 531.8,216.5 532.4,215.5 532.9,216.8 533.5,222.0 534.0,220.8 534.6,224.0 535.3,218.7 536.0,219.1 536.6,215.0 537.2,215.4 537.9,217.0 538.5,216.7 539.1,216.2 539.7,211.5 540.3,213.6 540.9,212.7 541.6,218.2 542.2,216.0 542.8,214.0 543.5,216.0 544.1,215.4 544.7,216.1 545.3,217.9 545.9,218.5 546.6,216.1 547.2,214.2 547.8,218.2 548.4,218.5 549.0,217.7 549.7,214.4 550.3,215.4 550.8,211.7 551.4,209.4 551.9,210.5 552.4,213.4 552.9,209.6 553.4,212.9 554.0,211.1 554.6,218.4 555.2,216.7 555.8,214.5 556.5,218.8 557.1,216.0 557.7,216.1 558.3,221.6 558.9,220.1 559.6,217.4 560.2,217.9 560.7,219.4 561.2,217.4 561.8,216.9 562.3,215.4 562.9,219.6 563.5,220.4 564.1,223.2 564.6,220.3 565.2,222.4 565.8,222.2 566.4,222.3 567.0,220.7 567.6,225.8 568.2,224.1 568.7,225.3 569.2,227.4 569.7,224.1 570.2,226.8 570.7,227.2 571.4,232.2 572.0,237.7 572.7,240.7 573.4,240.8 573.9,237.3 574.5,238.1 575.0,238.3 575.6,238.4 576.3,236.0 576.9,239.0 577.5,237.7 578.2,237.2 578.8,234.0 579.3,232.5 579.9,232.9 580.4,230.9 581.0,227.9 581.6,223.5 582.2,226.3 582.9,232.8 583.7,233.4 584.2,230.6 584.7,229.7" fill="none" stroke="#f7b52c" stroke-width="1.15" stroke-linejoin="round"/>
<polyline points="46.5,163.0 47.4,162.2 48.4,161.3 49.3,160.4 50.2,158.8 51.1,159.2 52.0,158.5 52.8,158.5 53.7,157.4 54.8,156.9 55.8,158.1 56.9,156.8 58.0,155.6 59.0,156.8 60.1,156.4 61.0,157.0 62.0,157.8 62.9,157.4 63.7,156.6 64.6,157.1 65.4,156.5 66.3,156.9 67.1,156.7 68.2,154.0 69.2,151.1 70.2,147.1 71.3,144.8 72.3,143.2 73.4,142.7 74.5,142.0 75.5,142.0 76.5,142.0 77.6,140.5 78.6,141.3 79.5,140.6 80.5,141.5 81.4,142.3 82.4,141.4 83.3,142.4 84.2,143.0 85.0,142.6 85.9,142.8 86.8,144.1 87.8,146.9 88.9,148.3 89.8,148.7 90.8,149.7 91.7,151.1 92.6,152.7 93.5,153.2 94.3,152.8 95.2,153.9 96.2,155.3 97.3,155.0 98.3,154.5 99.4,153.9 100.3,153.7 101.1,152.2 102.0,153.0 102.8,152.0 103.7,151.1 104.5,152.1 105.4,152.1 106.2,151.2 107.1,151.4 107.9,151.8 108.8,150.0 109.8,148.8 110.7,148.3 111.8,145.1 112.8,143.4 113.7,142.5 114.5,142.5 115.4,140.9 116.3,141.3 117.2,142.3 118.2,142.4 119.1,143.4 120.0,143.8 121.0,145.4 121.9,145.5 122.9,144.5 123.8,143.3 124.8,142.7 125.7,142.3 126.6,142.3 127.5,141.5 128.3,140.6 129.2,142.2 130.0,141.2 131.0,140.1 132.0,141.2 133.0,140.5 134.0,140.8 135.0,138.9 136.0,139.4 137.0,137.1 138.0,133.6 139.0,131.0 140.0,129.1 141.0,127.0 142.0,124.2 143.0,123.1 143.8,119.9 144.7,117.8 145.5,116.0 147.0,117.8 148.0,117.5 149.5,114.4 150.5,121.0 151.5,122.6 152.5,122.5 153.4,122.2 154.2,123.5 155.1,124.0 156.0,123.5 157.0,123.3 158.0,121.5 159.0,122.6 160.0,123.9 161.0,125.5 162.0,126.0 163.0,126.5 164.0,126.5 165.0,124.8 166.0,125.0 167.0,124.4 168.0,123.5 169.0,122.0 169.8,121.5 170.6,119.0 171.4,119.5 172.2,116.9 173.0,116.5 173.8,115.1 174.6,114.5 175.4,114.0 176.2,111.8 177.0,111.0 178.0,111.3 179.0,110.1 180.0,109.5 180.9,108.8 181.8,108.4 182.6,107.8 183.5,108.0 184.3,108.6 185.2,110.0 186.0,112.0 187.0,113.3 188.0,114.0 189.0,114.7 190.0,113.1 191.0,113.5 192.0,112.0 193.0,113.0 194.0,111.5 195.0,111.0 196.0,110.3 197.0,108.7 198.0,107.0 199.0,106.0 200.0,105.8 201.0,105.9 202.0,105.0 203.0,104.4 204.0,103.9 205.0,103.5 206.0,102.2 207.0,103.2 208.0,102.0 209.0,101.2 210.0,102.1 211.0,102.2 211.8,103.0 212.7,102.0 213.5,103.3 214.3,103.9 215.2,103.6 216.0,103.6 216.8,104.3 217.7,103.2 218.5,103.9 219.3,103.6 220.2,105.0 221.0,104.5 221.9,104.4 222.7,104.8 223.6,106.0 224.4,105.9 225.3,106.4 226.1,105.6 227.0,105.9 227.8,106.3 228.6,107.1 229.4,107.1 230.2,107.1 231.0,107.9 231.8,107.7 232.6,107.3 233.4,107.7 234.2,108.8 235.0,107.9 236.0,108.2 237.0,107.1 238.0,106.4 238.9,105.8 239.8,105.0 240.6,104.0 241.5,104.2 242.4,103.9 243.2,105.0 244.1,105.3 245.0,104.8 245.9,105.0 246.8,106.1 247.6,106.5 248.5,106.4 249.4,107.0 250.2,107.2 251.1,107.7 252.0,107.5 253.0,106.3 254.0,105.9 255.0,104.5 256.0,103.0 257.0,102.3 258.0,101.3 259.0,100.5 260.0,99.0 261.0,97.4 262.0,96.2 263.0,96.6 264.0,95.0 264.8,94.2 265.7,93.0 266.5,91.8 268.0,87.0 269.0,84.9 270.0,84.5 271.0,84.1 272.0,83.5 273.5,78.6 274.3,77.8 275.2,78.2 276.0,77.6 277.0,77.2 278.0,77.4 279.0,76.5 280.0,76.3 281.0,76.0 282.0,75.0 283.0,74.2 284.0,74.2 285.0,73.4 286.0,73.2 287.0,72.7 288.0,71.4 289.0,70.5 290.0,70.8 291.0,69.5 292.0,70.7 293.0,70.5 294.0,71.0 294.9,71.6 295.9,70.9 296.7,71.9 297.6,71.4 298.4,71.6 299.2,71.2 300.1,72.6 300.9,72.2 301.7,73.3 302.5,72.7 303.4,73.3 304.2,73.7 305.0,73.9 305.8,73.8 306.6,72.9 307.4,73.7 308.2,73.0 309.0,72.8 309.8,72.2 310.7,72.2 311.5,72.7 312.4,72.6 313.6,73.0 314.5,77.0 315.2,84.0 316.5,90.7 317.6,93.2 318.6,94.8 319.7,97.5 320.8,99.7 321.7,100.6 322.6,99.9 323.5,101.3 324.3,101.3 325.2,102.3 326.0,103.0 327.5,106.0 328.5,112.0 329.5,119.0 330.5,122.8 331.5,126.0 332.3,127.8 333.2,131.0 334.0,133.0 335.5,138.0 336.5,140.0 337.5,141.5 338.4,142.1 339.3,144.2 340.3,145.2 341.2,146.3 342.1,148.5 342.9,148.9 343.7,150.2 344.6,151.0 345.4,152.1 346.2,152.8 347.0,154.7 347.9,156.5 348.9,158.2 349.9,160.5 350.8,162.1 352.0,167.2 353.2,172.0 354.1,172.8 355.0,175.2 356.0,174.8 356.9,176.9 357.8,177.5 358.7,177.9 359.6,178.9 360.4,179.1 361.3,181.1 362.2,181.0 363.1,181.9 364.0,181.6 364.9,183.0 365.8,182.5 366.6,183.7 367.5,183.8 368.4,184.6 369.3,184.9 370.2,186.1 371.1,186.4 372.0,186.1 372.8,187.3 373.7,187.4 374.6,187.4 375.5,188.1 376.4,188.1 377.3,189.3 378.2,189.8 379.0,191.0 379.9,191.6 380.8,191.4 381.7,191.8 382.6,192.1 383.5,193.6 384.4,192.5 385.2,193.2 386.1,194.6 387.0,195.2 387.9,195.5 388.7,195.5 389.5,197.0 390.4,198.1 391.2,197.7 392.0,198.5 392.8,199.2 393.6,199.3 394.5,200.1 395.3,201.9 396.1,201.5 397.0,203.1 397.8,202.9 398.6,204.3 399.4,204.3 400.2,204.3 401.1,206.2 401.9,206.0 402.7,206.6 403.7,207.5 404.8,208.5 405.8,209.9 406.7,211.3 407.6,210.9 408.4,211.1 409.3,212.0 410.3,213.7 411.4,214.7 412.4,217.1 413.2,217.5 414.0,217.4 414.9,217.4 415.7,218.5 416.5,218.2 417.3,218.8 418.2,217.3 419.0,218.3 419.9,217.8 420.7,218.2 421.5,218.6 422.3,218.0 423.2,216.7 424.0,216.4 424.8,216.5 425.8,215.4 426.9,216.4 427.9,215.1 428.9,214.0 430.0,213.9 431.0,213.0 432.0,213.7 433.1,214.7 434.1,215.1 434.9,215.5 435.7,215.9 436.6,215.0 437.4,216.4 438.2,216.1 439.0,215.9 439.9,216.6 440.7,216.4 441.6,216.5 442.4,217.1 443.4,217.4 444.5,217.5 445.5,217.8 446.3,217.2 447.1,217.6 448.0,216.9 448.8,215.6 449.6,216.1 450.4,215.9 451.2,216.4 452.1,217.4 452.9,217.6 453.7,217.1 454.7,217.2 455.8,216.2 456.8,217.1 457.8,216.9 458.9,215.6 459.9,215.1 460.9,214.5 462.0,214.1 463.0,213.0 464.0,212.9 465.1,212.3 466.1,212.0 467.1,212.4 468.2,211.1 469.2,211.0 470.2,209.0 471.3,207.4 472.3,207.4 473.3,206.2 474.3,206.6 475.4,207.6 476.4,208.9 477.2,209.6 478.0,208.4 478.9,209.9 479.7,209.4 480.6,210.6 481.5,211.0 482.5,211.6 483.4,212.8 484.3,214.5 485.3,215.8 486.2,215.6 487.2,217.4 488.1,218.3 489.0,219.4 490.0,220.2 490.9,221.2 491.8,221.8 492.8,222.4 493.7,224.1 494.6,224.9 495.5,226.7 496.5,226.6 497.4,228.2 498.3,229.9 499.2,231.0 500.1,231.4 501.1,231.6 502.0,231.8 502.9,231.3 503.9,233.0 504.9,233.8 505.8,233.3 506.7,234.4 507.6,234.1 508.6,233.2 509.5,234.2 510.4,235.0 511.4,234.1 512.3,235.1 513.2,235.1 514.1,235.6 515.1,234.9 516.0,234.2 516.9,231.4 517.9,229.5 518.8,227.7 519.7,227.1 520.6,224.3 521.6,223.7 522.5,222.1 523.4,221.7 524.4,221.0 525.3,221.6 526.2,221.2 527.1,219.7 528.1,219.2 529.0,219.3 529.9,220.0 530.9,220.4 531.8,222.1 532.7,222.6 533.6,224.8 534.6,226.4 535.5,227.3 536.5,227.6 537.5,225.9 538.5,226.2 539.3,225.8 540.2,225.3 541.0,225.3 542.2,224.9 543.4,224.1 544.3,223.6 545.3,223.2 546.2,224.7 547.2,224.7 548.4,225.4 549.6,226.6 550.4,226.2 551.3,227.8 552.1,227.8 552.9,227.4 553.8,228.4 554.6,228.4 555.4,228.7 556.3,229.8 557.1,229.4 557.9,229.8 558.8,230.2 559.6,230.3 560.4,231.5 561.2,233.5 561.8,234.0 562.4,230.3 563.3,230.0 564.2,229.0 565.1,229.0 565.9,229.6 566.8,229.3 567.6,229.4 568.4,229.0 569.3,229.5 570.1,230.3 571.0,232.2 572.0,234.6 572.9,236.3 573.8,237.1 574.8,237.8 575.7,239.6 576.6,241.8 577.5,243.3 578.5,244.8 579.4,245.8 580.6,244.5 581.5,242.4 582.5,241.8 583.3,242.0 584.2,240.8 585.0,241.4" fill="none" stroke="#0000ff" stroke-width="3" stroke-linejoin="round"/></g>
<path d="M298.6 450V70.5M405.6 450V209.5M513.2 450L513.8 235" stroke="#058805" stroke-width="2.7" fill="none"/>
<path d="M46.5 38V450.5H585.5V38M43 38.5H589M43 282.5H589" stroke="#333" stroke-width="1" fill="none"/>
<path d="M43 282.5H46 M43 260.5H46 M43 238.5H46 M43 215.5H46 M43 193.5H46 M43 171.5H46 M43 149.5H46 M43 127.5H46 M43 105.5H46 M43 82.5H46 M43 60.5H46 M43 38.5H46 M585 282.5H589 M585 260.5H589 M585 238.5H589 M585 215.5H589 M585 193.5H589 M585 171.5H589 M585 149.5H589 M585 127.5H589 M585 105.5H589 M585 82.5H589 M585 60.5H589 M585 38.5H589 M585 295.5H589 M585 321.5H589 M585 347.5H589 M585 372.5H589 M585 398.5H589 M585 424.5H589 M585 450.5H589 M82.5 450V454 M189.5 450V454 M298.5 450V454 M406.5 450V454 M513.5 450V454" stroke="#222" stroke-width="1" fill="none"/>
<g font-size="10.4" fill="#000" style="text-rendering:geometricPrecision"><text x="41.6" y="286.2" text-anchor="end" textLength="10.3" lengthAdjust="spacingAndGlyphs">55</text><text x="41.6" y="264.1" text-anchor="end" textLength="10.3" lengthAdjust="spacingAndGlyphs">60</text><text x="41.6" y="241.9" text-anchor="end" textLength="10.3" lengthAdjust="spacingAndGlyphs">65</text><text x="41.6" y="219.7" text-anchor="end" textLength="10.3" lengthAdjust="spacingAndGlyphs">70</text><text x="41.6" y="197.5" text-anchor="end" textLength="10.3" lengthAdjust="spacingAndGlyphs">75</text><text x="41.6" y="175.3" text-anchor="end" textLength="10.3" lengthAdjust="spacingAndGlyphs">80</text><text x="41.6" y="153.2" text-anchor="end" textLength="10.3" lengthAdjust="spacingAndGlyphs">85</text><text x="41.6" y="131.0" text-anchor="end" textLength="10.3" lengthAdjust="spacingAndGlyphs">90</text><text x="41.6" y="108.8" text-anchor="end" textLength="10.3" lengthAdjust="spacingAndGlyphs">95</text><text x="41.6" y="86.6" text-anchor="end" textLength="15.2" lengthAdjust="spacingAndGlyphs">100</text><text x="41.6" y="64.4" text-anchor="end" textLength="15.2" lengthAdjust="spacingAndGlyphs">105</text><text x="41.6" y="42.2" text-anchor="end" textLength="15.2" lengthAdjust="spacingAndGlyphs">110</text><text x="591.6" y="286.2" textLength="15.2" lengthAdjust="spacingAndGlyphs">900</text><text x="591.6" y="264.1" textLength="20.3" lengthAdjust="spacingAndGlyphs">1000</text><text x="591.6" y="241.9" textLength="20.3" lengthAdjust="spacingAndGlyphs">1100</text><text x="591.6" y="219.7" textLength="20.3" lengthAdjust="spacingAndGlyphs">1200</text><text x="591.6" y="197.5" textLength="20.3" lengthAdjust="spacingAndGlyphs">1300</text><text x="591.6" y="175.3" textLength="20.3" lengthAdjust="spacingAndGlyphs">1400</text><text x="591.6" y="153.2" textLength="20.3" lengthAdjust="spacingAndGlyphs">1500</text><text x="591.6" y="131.0" textLength="20.3" lengthAdjust="spacingAndGlyphs">1600</text><text x="591.6" y="108.8" textLength="20.3" lengthAdjust="spacingAndGlyphs">1700</text><text x="591.6" y="86.6" textLength="20.3" lengthAdjust="spacingAndGlyphs">1800</text><text x="591.6" y="64.4" textLength="20.3" lengthAdjust="spacingAndGlyphs">1900</text><text x="591.6" y="42.2" textLength="20.3" lengthAdjust="spacingAndGlyphs">2000</text></g>
<g font-size="10.5" fill="#111" style="text-rendering:geometricPrecision"><text x="592.5" y="299.3">1.5</text><text x="592.5" y="325.2">1.0</text><text x="592.5" y="351.1">0.5</text><text x="593.1" y="402.8"><tspan font-size="8.6">−</tspan><tspan dx="1.3" font-size="10.2">0.5</tspan></text><text x="593.1" y="428.7"><tspan font-size="8.6">−</tspan><tspan dx="1.3" font-size="10.2">1.0</tspan></text><text x="593.1" y="454.6"><tspan font-size="8.6">−</tspan><tspan dx="1.3" font-size="10.2">1.5</tspan></text></g>
<text x="591.8" y="377.5" font-size="10.5" fill="#ff00ff">0</text>
<text x="82.3" y="465" font-size="10.6" text-anchor="middle" fill="#111" style="text-rendering:geometricPrecision">2011</text>
<text x="189.3" y="465" font-size="10.6" text-anchor="middle" fill="#111" style="text-rendering:geometricPrecision">2012</text>
<text x="298.3" y="465" font-size="10.6" text-anchor="middle" fill="#111" style="text-rendering:geometricPrecision">2013</text>
<text x="406.3" y="465" font-size="10.6" text-anchor="middle" fill="#111" style="text-rendering:geometricPrecision">2014</text>
<text x="513.3" y="465" font-size="10.6" text-anchor="middle" fill="#111" style="text-rendering:geometricPrecision">2015</text>
<text transform="translate(19.8,160.2) rotate(-90)" text-anchor="middle" font-size="11.2" font-weight="bold" fill="#0000ff">Millions of Ounces of Gold</text>
<text transform="translate(627.8,156.5) rotate(-90)" text-anchor="middle" font-size="10.4" font-weight="bold" fill="#daa520">US$ Gold Price</text>
<text transform="translate(629.8,366.3) rotate(-90)" text-anchor="middle" font-size="10.8" font-weight="bold" fill="#000">Daily Change</text>
<g font-size="10.85" fill="#111">
<text x="55.5" y="47.6">Total = 64.317 Million Ounces</text>
<text x="574.5" y="47.6" text-anchor="end">Gold = 1118.25</text>
<text x="72" y="278.4">Millions of Ounces</text>
<text x="492" y="278.4" font-size="10.5">US$ Gold Price</text>
<text x="53.6" y="292">Daily Change</text>
<text x="570" y="292" text-anchor="end" font-size="10.6">Latest = 0.254 M/oz</text>
</g>
<text x="281" y="47.6" style="white-space:pre" font-size="10.9" letter-spacing="0.3" fill="#111">Sep-04  2015</text>
<path d="M55.5 275.3H71" stroke="#0000ff" stroke-width="3"/>
<path d="M472.5 275.6H487.5" stroke="#f7b52c" stroke-width="3"/>
<g font-size="17.5" font-weight="bold" fill="#000" letter-spacing="0.3">
<text x="104.8" y="205.1">2,200 Tonnes =</text>
<text x="104.8" y="224.6">70,731,643 troy oz.</text>
<text x="403.8" y="96.6" letter-spacing="0.12">non-official</text>
<text x="403.8" y="115.9">sources</text>
</g>
<g font-size="17.2" font-weight="bold" fill="#ff0000" letter-spacing="0.3">
<text x="308" y="231.1">Drawdown</text>
<text x="308" y="250.9">of about</text>
<text x="308" y="270.9">40M oz.</text>
</g>
<text x="334" y="477.8" text-anchor="middle" font-size="9" fill="#111">world gold charts © www.goldchartsrus.com</text>
</svg></body></html>
